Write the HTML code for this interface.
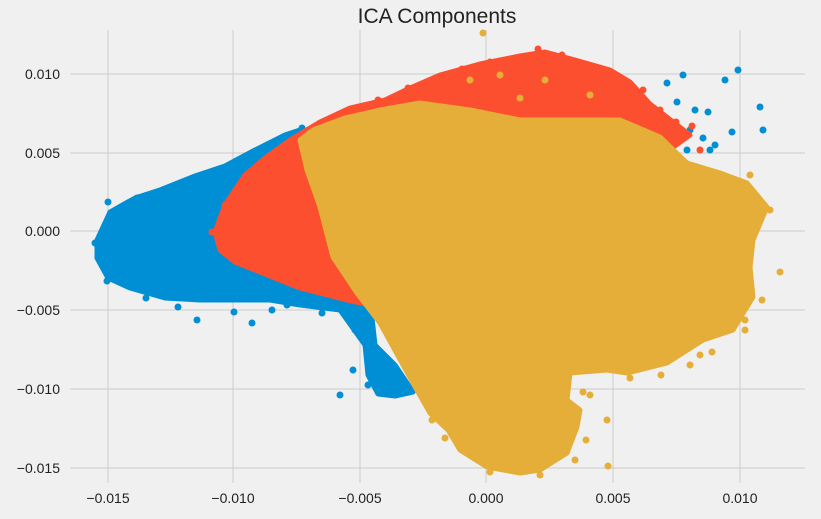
<!DOCTYPE html>
<html><head><meta charset="utf-8"><style>
html,body{margin:0;padding:0;background:#f0f0f0;}
svg{display:block;font-family:"Liberation Sans","DejaVu Sans",sans-serif;}
</style></head><body>
<svg width="821" height="519" viewBox="0 0 821 519" xmlns="http://www.w3.org/2000/svg">
<rect width="821" height="519" fill="#f0f0f0"/>
<g stroke="#cbcbcb" stroke-width="1">
<line x1="108" y1="30" x2="108" y2="483"/><line x1="233" y1="30" x2="233" y2="483"/>
<line x1="360" y1="30" x2="360" y2="483"/><line x1="486" y1="30" x2="486" y2="483"/>
<line x1="613" y1="30" x2="613" y2="483"/><line x1="740" y1="30" x2="740" y2="483"/>
<line x1="70" y1="74" x2="805" y2="74"/><line x1="70" y1="153" x2="805" y2="153"/>
<line x1="70" y1="231" x2="805" y2="231"/><line x1="70" y1="310" x2="805" y2="310"/>
<line x1="70" y1="389" x2="805" y2="389"/><line x1="70" y1="468" x2="805" y2="468"/>
</g>
<g fill="#008fd5" stroke="#008fd5" stroke-width="5" stroke-linejoin="round">
<polygon points="97,240 110,212 135,198 160,190 195,176 225,166 255,150 285,135 300,130 330,160 345,300 360,305 372,318 375,345 395,365 413,392 395,396 378,394 368,375 365,345 340,310 300,305 270,300 240,300 200,300 165,298 130,288 108,278 97,258"/>
<g stroke="none">
<circle cx="95" cy="243" r="3.5"/><circle cx="108" cy="202" r="3.5"/><circle cx="137" cy="198" r="3.5"/><circle cx="107" cy="281" r="3.5"/>
<circle cx="146" cy="298" r="3.5"/><circle cx="178" cy="307" r="3.5"/><circle cx="197" cy="320" r="3.5"/><circle cx="234" cy="312" r="3.5"/>
<circle cx="252" cy="323" r="3.5"/><circle cx="238" cy="180" r="3.5"/><circle cx="232" cy="165" r="3.5"/><circle cx="262" cy="150" r="3.5"/>
<circle cx="272" cy="310" r="3.5"/><circle cx="287" cy="305" r="3.5"/><circle cx="322" cy="313" r="3.5"/><circle cx="355" cy="330" r="3.5"/>
<circle cx="353" cy="370" r="3.5"/><circle cx="340" cy="395" r="3.5"/><circle cx="368" cy="385" r="3.5"/><circle cx="302" cy="128" r="3.5"/>
<circle cx="667" cy="83" r="3.5"/><circle cx="683" cy="75" r="3.5"/><circle cx="738" cy="70" r="3.5"/><circle cx="760" cy="107" r="3.5"/>
<circle cx="763" cy="130" r="3.5"/><circle cx="732" cy="132" r="3.5"/><circle cx="710" cy="150" r="3.5"/><circle cx="687" cy="150" r="3.5"/>
<circle cx="725" cy="80" r="3.5"/><circle cx="708" cy="112" r="3.5"/><circle cx="695" cy="110" r="3.5"/><circle cx="677" cy="102" r="3.5"/>
<circle cx="703" cy="138" r="3.5"/><circle cx="715" cy="145" r="3.5"/><circle cx="660" cy="120" r="3.5"/><circle cx="690" cy="130" r="3.5"/>
</g></g>
<g fill="#fc4f30" stroke="#fc4f30" stroke-width="5" stroke-linejoin="round">
<polygon points="215,232 225,205 245,175 265,158 290,140 320,122 350,108 385,100 410,88 440,75 480,64 520,56 545,52 575,60 610,70 630,82 650,104 668,118 690,135 600,200 420,330 370,305 347,300 300,288 260,272 235,262 220,250"/>
<g stroke="none">
<circle cx="538" cy="49" r="3.5"/><circle cx="490" cy="62" r="3.5"/><circle cx="562" cy="55" r="3.5"/><circle cx="462" cy="69" r="3.5"/>
<circle cx="437" cy="78" r="3.5"/><circle cx="408" cy="88" r="3.5"/><circle cx="378" cy="100" r="3.5"/><circle cx="643" cy="90" r="3.5"/>
<circle cx="660" cy="110" r="3.5"/><circle cx="676" cy="122" r="3.5"/><circle cx="700" cy="150" r="3.5"/><circle cx="692" cy="126" r="3.5"/>
<circle cx="212" cy="232" r="3.5"/><circle cx="225" cy="205" r="3.5"/>
</g></g>
<g fill="#e5ae38" stroke="#e5ae38" stroke-width="5" stroke-linejoin="round">
<polygon points="300,140 313,130 345,118 380,110 420,103 470,110 520,120 620,120 660,137 687,163 720,173 747,183 767,207 753,240 750,267 753,297 733,330 703,340 667,363 627,373 607,370 570,373 567,400 580,410 577,427 567,453 540,470 520,473 487,467 460,450 448,430 430,413 413,383 380,323 357,293 333,257 320,207 307,170"/>
<g stroke="none">
<circle cx="780" cy="272" r="3.5"/><circle cx="770" cy="210" r="3.5"/><circle cx="762" cy="300" r="3.5"/><circle cx="745" cy="320" r="3.5"/>
<circle cx="745" cy="330" r="3.5"/><circle cx="712" cy="352" r="3.5"/><circle cx="690" cy="365" r="3.5"/><circle cx="661" cy="375" r="3.5"/>
<circle cx="608" cy="466" r="3.5"/><circle cx="607" cy="420" r="3.5"/><circle cx="583" cy="392" r="3.5"/><circle cx="586" cy="440" r="3.5"/>
<circle cx="540" cy="475" r="3.5"/><circle cx="490" cy="472" r="3.5"/><circle cx="483" cy="33" r="3.5"/><circle cx="750" cy="175" r="3.5"/>
<circle cx="590" cy="395" r="3.5"/><circle cx="630" cy="378" r="3.5"/><circle cx="575" cy="460" r="3.5"/><circle cx="432" cy="420" r="3.5"/>
<circle cx="445" cy="438" r="3.5"/><circle cx="500" cy="75" r="3.5"/><circle cx="470" cy="80" r="3.5"/><circle cx="545" cy="80" r="3.5"/>
<circle cx="590" cy="95" r="3.5"/><circle cx="520" cy="98" r="3.5"/><circle cx="700" cy="355" r="3.5"/>
</g></g>
<g font-size="14" fill="#222" text-anchor="middle">
<text x="108" y="503">−0.015</text><text x="233" y="503">−0.010</text><text x="360" y="503">−0.005</text>
<text x="486" y="503">0.000</text><text x="613" y="503">0.005</text><text x="740" y="503">0.010</text>
</g>
<g font-size="14" fill="#222" text-anchor="end">
<text x="60" y="79">0.010</text><text x="60" y="158">0.005</text><text x="60" y="236">0.000</text>
<text x="60" y="315">−0.005</text><text x="60" y="394">−0.010</text><text x="60" y="473">−0.015</text>
</g>
<text x="437" y="23" font-size="21" text-anchor="middle" fill="#222">ICA Components</text>
</svg>
</body></html>
